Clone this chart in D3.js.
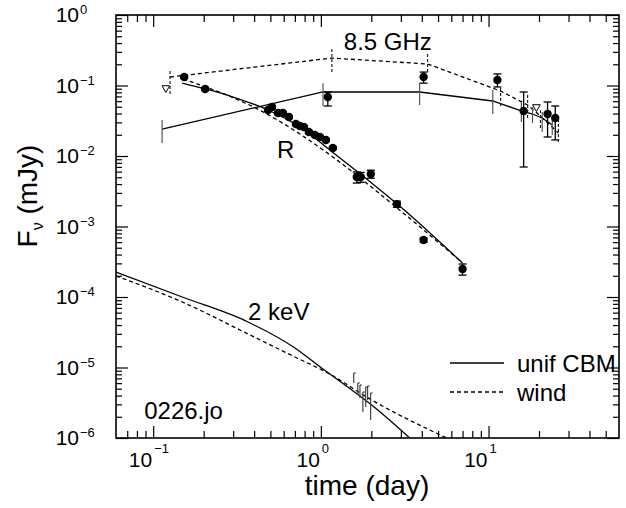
<!DOCTYPE html>
<html>
<head>
<meta charset="utf-8">
<script src="https://cdn.jsdelivr.net/npm/d3@7"></script>
<style>
  body { margin: 0; background: #fff; }
  svg { display: block; font-family: 'Liberation Sans', Arial, Helvetica, sans-serif; }
</style>
</head>
<body>
<div id="chart"></div>
<script>
// 8.5 GHz radio detections (time in days, flux in mJy)
const radioT = [1.10, 4.10, 11.3, 16.2, 22.5, 25.0];
const radioF = [0.0687, 0.132, 0.120, 0.0435, 0.0394, 0.0346];
const radioLo = [0.0512, 0.108, 0.0953, 0.00698, 0.0186, 0.0169];
const radioHi = [0.081, 0.155, 0.146, 0.0809, 0.0583, 0.0512];
// 8.5 GHz upper limits
const radioLimT = [0.119, 19.3];
const radioLimF = [0.0922, 0.0496];

// R band
const rT = [0.153, 0.204, 0.484, 0.511, 0.555, 0.594, 0.645, 0.710, 0.750, 0.792, 0.848,
  0.921, 0.986, 1.071, 1.179, 1.637, 1.73, 1.985, 2.84, 4.10, 7.0];
const rF = [0.132, 0.0892, 0.0449, 0.0496, 0.0407, 0.0407, 0.0357, 0.0284, 0.0267, 0.0258, 0.0219,
  0.0199, 0.0186, 0.0169, 0.0130, 0.00504, 0.00504, 0.00556, 0.00208, 0.000644, 0.000249];
const rErr = [0.05, 0.05, 0.05, 0.05, 0.05, 0.05, 0.05, 0.05, 0.05, 0.05, 0.05,
  0.05, 0.05, 0.05, 0.05, 0.18, 0.16, 0.13, 0.10, 0.07, 0.18];

// 2 keV X-ray
const xT = [1.57, 1.66, 1.71, 1.78, 1.85, 1.90, 1.98];
const xF = [7.1e-6, 4.95e-6, 4.57e-6, 3.24e-6, 3.81e-6, 4.35e-6, 2.8e-6];
const xLo = [6.03e-6, 4.07e-6, 3.69e-6, 2.34e-6, 2.75e-6, 3.46e-6, 1.80e-6];
const xHi = [8.36e-6, 6.03e-6, 5.65e-6, 4.49e-6, 5.29e-6, 5.47e-6, 4.35e-6];

// Model: uniform circumburst medium
const cbmRadioT = [0.113, 1.03, 3.88, 10.6, 15.7, 18.3, 20.9, 24.0];
const cbmRadioF = [0.0241, 0.0809, 0.0809, 0.0603, 0.0435, 0.0394, 0.0346, 0.0275];
const cbmRadioLo = [0.0153, 0.0512, 0.0529, 0.0394, 0.0304, 0.0294, 0.0219, 0.0199];
const cbmRadioHi = [0.0324, 0.108, 0.108, 0.0863, 0.0583, 0.0496, 0.0421, 0.0357];
const cbmRT = [0.149, 0.287, 0.484, 0.750, 1.131, 2.95, 7.0];
const cbmRF = [0.108, 0.0710, 0.0449, 0.0258, 0.01217, 0.00195, 0.000303];
const cbmXT = [0.06, 0.149, 0.368, 0.700, 1.01, 1.447, 2.01, 3.39];
const cbmXF = [2.26e-4, 1.0e-4, 4.42e-5, 1.89e-5, 9.84e-6, 5.29e-6, 2.94e-6, 1.0e-6];

// Model: wind medium
const windRadioT = [0.126, 1.163, 4.33, 11.8, 17.1, 20.4, 26.1];
const windRadioF = [0.132, 0.245, 0.202, 0.0835, 0.0529, 0.0369, 0.0212];
const windRadioLo = [0.0757, 0.155, 0.155, 0.0512, 0.0346, 0.0250, 0.0158];
const windRadioHi = [0.161, 0.340, 0.289, 0.0984, 0.0733, 0.0446, 0.0346];
const windRT = [0.151, 0.477, 0.750, 1.179, 2.95, 6.91];
const windRF = [0.1236, 0.0394, 0.0205, 0.00968, 0.00171, 0.000313];
const windXT = [0.06, 0.149, 0.368, 0.700, 1.10, 2.01, 5.62];
const windXF = [1.99e-4, 8.5e-5, 2.99e-5, 1.41e-5, 8.36e-6, 3.46e-6, 1.0e-6];

// Tick labels (powers of ten)
const xTickExp = [-1, 0, 1];
const yTickExp = [0, -1, -2, -3, -4, -5, -6];
const legendLabels = ['unif CBM', 'wind'];
const curveLabels = ['8.5 GHz', 'R', '2 keV'];
const fileLabel = '0226.jo';

const W = 626, H = 508;
const plot = { left: 116, right: 619, top: 15, bottom: 438 };

const svg = d3.select('#chart').append('svg').attr('width', W).attr('height', H);

const x = d3.scaleLog().domain([0.06, 60]).range([plot.left, plot.right]);
const y = d3.scaleLog().domain([1e-6, 1]).range([plot.bottom, plot.top]);

svg.append('clipPath').attr('id', 'clip')
  .append('rect')
  .attr('x', plot.left).attr('y', plot.top)
  .attr('width', plot.right - plot.left).attr('height', plot.bottom - plot.top);

// minor / major tick values
const xMajor = xTickExp.map((e) => Math.pow(10, e));
const xMinor = [];
[-2, -1, 0, 1].forEach((e) => {
  for (let k = 2; k <= 9; k++) {
    const v = k * Math.pow(10, e);
    if (v > 0.06 && v < 60) xMinor.push(v);
  }
});
const yMajor = yTickExp.map((e) => Math.pow(10, e));
const yMinor = [];
for (let e = -6; e < 0; e++) {
  for (let k = 2; k <= 9; k++) yMinor.push(k * Math.pow(10, e));
}

// Axes: inward ticks on all four sides
const drawTicks = (axis, transform, values, size) => {
  svg.append('g')
    .attr('transform', transform)
    .call(axis.tickValues(values).tickSize(size).tickFormat(''))
    .call((g) => g.select('.domain').remove())
    .call((g) => g.selectAll('.tick line').attr('stroke', '#000').attr('stroke-width', 1.2));
};
drawTicks(d3.axisBottom(x), `translate(0,${plot.bottom})`, xMajor, -12);
drawTicks(d3.axisBottom(x), `translate(0,${plot.bottom})`, xMinor, -7);
drawTicks(d3.axisTop(x), `translate(0,${plot.top})`, xMajor, -12);
drawTicks(d3.axisTop(x), `translate(0,${plot.top})`, xMinor, -7);
drawTicks(d3.axisLeft(y), `translate(${plot.left},0)`, yMajor, -12);
drawTicks(d3.axisLeft(y), `translate(${plot.left},0)`, yMinor, -6);
drawTicks(d3.axisRight(y), `translate(${plot.right},0)`, yMajor, -12);
drawTicks(d3.axisRight(y), `translate(${plot.right},0)`, yMinor, -6);

// frame
svg.append('rect')
  .attr('x', plot.left).attr('y', plot.top)
  .attr('width', plot.right - plot.left).attr('height', plot.bottom - plot.top)
  .attr('fill', 'none').attr('stroke', '#000').attr('stroke-width', 1.6);

// tick labels
const xLab = svg.append('g').attr('font-size', 21);
xTickExp.forEach((e) => {
  const px = x(Math.pow(10, e));
  xLab.append('text').attr('x', px - 1).attr('y', 467).attr('text-anchor', 'end').text('10');
  xLab.append('text').attr('x', px + 1).attr('y', 453).attr('font-size', 13)
    .text(e < 0 ? '\u2212' + Math.abs(e) : e);
});
const yLab = svg.append('g').attr('font-size', 21);
yTickExp.forEach((e) => {
  const py = y(Math.pow(10, e));
  yLab.append('text').attr('x', 79).attr('y', py + 7).attr('text-anchor', 'end').text('10');
  yLab.append('text').attr('x', 80).attr('y', py - 1).attr('font-size', 13)
    .text(e < 0 ? '\u2212' + Math.abs(e) : e);
});

// axis titles
svg.append('text')
  .attr('x', 367).attr('y', 495)
  .attr('text-anchor', 'middle').attr('font-size', 28)
  .text('time (day)');
const yTitle = svg.append('text')
  .attr('transform', 'translate(37,196) rotate(-90)')
  .attr('text-anchor', 'middle').attr('font-size', 28);
yTitle.append('tspan').text('F');
yTitle.append('tspan').attr('font-size', 16).attr('dy', 6).text('\u03bd');
yTitle.append('tspan').attr('dy', -6).text(' (mJy)');

const g = svg.append('g').attr('clip-path', 'url(#clip)');

const line = d3.line().x((d) => x(d[0])).y((d) => y(d[1]));
const smooth = d3.line().x((d) => x(d[0])).y((d) => y(d[1])).curve(d3.curveMonotoneX);
const dash = '4 3';

// model curves
const drawModel = (T, F, dashed, gen) => {
  g.append('path')
    .attr('fill', 'none')
    .attr('stroke', '#000')
    .attr('stroke-width', 1.3)
    .attr('stroke-dasharray', dashed ? dash : null)
    .attr('d', gen(d3.zip(T, F)));
};
drawModel(cbmRadioT, cbmRadioF, false, line);
drawModel(windRadioT, windRadioF, true, line);
drawModel(cbmRT, cbmRF, false, smooth);
drawModel(windRT, windRF, true, smooth);
drawModel(cbmXT, cbmXF, false, smooth);
drawModel(windXT, windXF, true, smooth);

// model scintillation ranges at the radio epochs
const drawModelBars = (T, lo, hi, dashed) => {
  g.append('g')
    .selectAll('line')
    .data(d3.zip(T, lo, hi))
    .join('line')
    .attr('x1', (d) => x(d[0])).attr('x2', (d) => x(d[0]))
    .attr('y1', (d) => y(d[1])).attr('y2', (d) => y(d[2]))
    .attr('stroke', dashed ? '#222' : '#555')
    .attr('stroke-width', 1.2)
    .attr('stroke-dasharray', dashed ? '3 2' : null);
};
drawModelBars(cbmRadioT, cbmRadioLo, cbmRadioHi, false);
drawModelBars(windRadioT, windRadioLo, windRadioHi, true);

// data points with capped error bars
const drawPoints = (T, F, lo, hi) => {
  const pts = d3.zip(T, F, lo, hi);
  const eg = g.append('g').attr('stroke', '#000').attr('stroke-width', 1.3);
  eg.selectAll('.bar').data(pts).join('line').attr('class', 'bar')
    .attr('x1', (d) => x(d[0])).attr('x2', (d) => x(d[0]))
    .attr('y1', (d) => y(d[2])).attr('y2', (d) => y(d[3]));
  eg.selectAll('.capLo').data(pts).join('line').attr('class', 'capLo')
    .attr('x1', (d) => x(d[0]) - 4).attr('x2', (d) => x(d[0]) + 4)
    .attr('y1', (d) => y(d[2])).attr('y2', (d) => y(d[2]));
  eg.selectAll('.capHi').data(pts).join('line').attr('class', 'capHi')
    .attr('x1', (d) => x(d[0]) - 4).attr('x2', (d) => x(d[0]) + 4)
    .attr('y1', (d) => y(d[3])).attr('y2', (d) => y(d[3]));
  g.append('g').selectAll('circle').data(pts).join('circle')
    .attr('cx', (d) => x(d[0])).attr('cy', (d) => y(d[1]))
    .attr('r', 4.2).attr('fill', '#000');
};
drawPoints(radioT, radioF, radioLo, radioHi);
drawPoints(rT, rF, rF.map((f, i) => f * (1 - rErr[i])), rF.map((f, i) => f * (1 + rErr[i])));

// radio upper limits
g.append('g').selectAll('path')
  .data(d3.zip(radioLimT, radioLimF))
  .join('path')
  .attr('transform', (d) => `translate(${x(d[0])},${y(d[1])}) rotate(180)`)
  .attr('d', d3.symbol().type(d3.symbolTriangle).size(26))
  .attr('fill', '#fff').attr('stroke', '#000').attr('stroke-width', 1);

// X-ray error bars (no markers)
const xg = g.append('g').attr('stroke', '#444').attr('stroke-width', 1.2);
const xPts = d3.zip(xT, xF, xLo, xHi);
xg.selectAll('.bar').data(xPts).join('line').attr('class', 'bar')
  .attr('x1', (d) => x(d[0])).attr('x2', (d) => x(d[0]))
  .attr('y1', (d) => y(d[2])).attr('y2', (d) => y(d[3]));
xg.selectAll('.cap').data(xPts).join('line').attr('class', 'cap')
  .attr('x1', (d) => x(d[0])).attr('x2', (d) => x(d[0]) + 2)
  .attr('y1', (d) => y(d[3])).attr('y2', (d) => y(d[3]));

// curve labels
const labelAt = [[1.37, 0.319], [0.547, 0.00937], [0.368, 4.72e-5]];
curveLabels.forEach((txt, i) => {
  svg.append('text')
    .attr('x', x(labelAt[i][0])).attr('y', y(labelAt[i][1]))
    .attr('font-size', 24).text(txt);
});
svg.append('text')
  .attr('x', x(0.0884)).attr('y', y(1.86e-6))
  .attr('font-size', 24).text(fileLabel);

// legend
const legend = svg.append('g').attr('font-size', 24);
legendLabels.forEach((lbl, i) => {
  const ly = 363 + i * 29;
  legend.append('line')
    .attr('x1', 450).attr('x2', 504).attr('y1', ly).attr('y2', ly)
    .attr('stroke', '#000').attr('stroke-width', 1.3)
    .attr('stroke-dasharray', i === 1 ? dash : null);
  legend.append('text').attr('x', 517).attr('y', ly + 9).text(lbl);
});
</script>
</body>
</html>
